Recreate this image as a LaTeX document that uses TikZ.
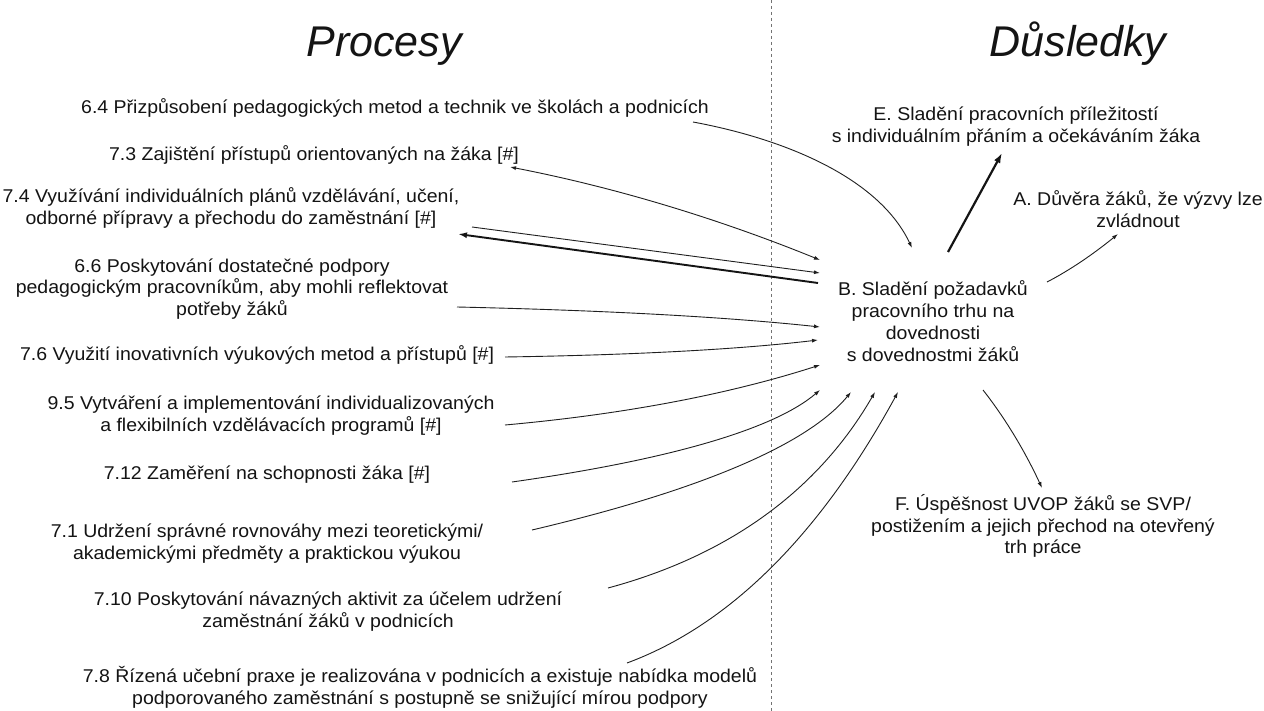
\documentclass[tikz,border=0pt]{standalone}
\usepackage{fontspec}
\setmainfont{Liberation Sans}[FakeStretch=1.054]
\newfontfamily\ttlfont{Liberation Sans}
\usetikzlibrary{arrows.meta,calc}
\newcommand\qcurve[4][]{\draw[#1] (#2) .. controls ($(#2)!0.6667!(#3)$) and ($(#4)!0.6667!(#3)$) .. (#4);}
\begin{document}
\begin{tikzpicture}[x=1pt,y=-1pt,
  txt/.style={font=\fontsize{18.5}{21.8}\selectfont, align=center, inner sep=0pt, text=black!92},
  ttl/.style={font=\ttlfont\fontsize{43}{46}\selectfont\itshape, inner sep=0pt, text=black!92, anchor=base},
  con/.style={line width=0.9pt, draw=black!88, -{Latex[length=6pt,width=4pt]}},
  con2/.style={line width=0.9pt, draw=black!88, {Latex[length=6pt,width=4pt]}-{Latex[length=6pt,width=4pt]}},
  bold/.style={line width=2.2pt, draw=black!92, -{Latex[length=10pt,width=7pt]}},
  divider/.style={draw=black!55, line width=0.8pt, dash pattern=on 3pt off 3pt}]
\path[fill=white,use as bounding box] (0,0) rectangle (1264,711);

\node[ttl] (tP) at (384,57) {Procesy};
\node[ttl] (tD) at (1078,57) {Důsledky};
\coordinate (dtop) at (771,0);
\coordinate (dbot) at (771,711);
\draw[divider] (dtop) -- (dbot);

\node[txt] (p64) at (395,108) {6.4 Přizpůsobení pedagogických metod a technik ve školách a podnicích};
\node[txt] (p73) at (314,155) {7.3 Zajištění přístupů orientovaných na žáka [\#]};
\node[txt] (p74) at (231,208) {7.4 Využívání individuálních plánů vzdělávání, učení,\\odborné přípravy a přechodu do zaměstnání [\#]};
\node[txt] (p66) at (232,289) {6.6 Poskytování dostatečné podpory\\pedagogickým pracovníkům, aby mohli reflektovat\\potřeby žáků};
\node[txt] (p76) at (257,355) {7.6 Využití inovativních výukových metod a přístupů [\#]};
\node[txt] (p95) at (271,416) {9.5 Vytváření a implementování individualizovaných\\a flexibilních vzdělávacích programů [\#]};
\node[txt] (p712) at (267,475) {7.12 Zaměření na schopnosti žáka [\#]};
\node[txt] (p71) at (267,544) {7.1 Udržení správné rovnováhy mezi teoretickými/\\akademickými předměty a praktickou výukou};
\node[txt] (p710) at (328,612) {7.10 Poskytování návazných aktivit za účelem udržení\\zaměstnání žáků v podnicích};
\node[txt] (p78) at (420,687) {7.8 Řízená učební praxe je realizována v podnicích a existuje nabídka modelů\\podporovaného zaměstnání s postupně se snižující mírou podpory};

\node[txt] (cE) at (1016,127) {E. Sladění pracovních příležitostí\\s individuálním přáním a očekáváním žáka};
\node[txt] (cA) at (1138,209) {A. Důvěra žáků, že výzvy lze\\zvládnout};
\node[txt] (cB) at (933,321) {B. Sladění požadavků\\pracovního trhu na\\dovednosti\\s dovednostmi žáků};
\node[txt] (cF) at (1043,526) {F. Úspěšnost UVOP žáků se SVP/\\postižením a jejich přechod na otevřený\\trh práce};

% connector end points
\coordinate (s64) at (693,122);  \coordinate (e64) at (912,248);
\coordinate (s73) at (820,260);  \coordinate (q73) at (665,197); \coordinate (e73) at (510,167);
\coordinate (s74) at (472,227);  \coordinate (e74) at (820,273);
\coordinate (s74k) at (818,283); \coordinate (e74k) at (458,234);
\coordinate (s66) at (457,307);  \coordinate (q66) at (680,312); \coordinate (e66) at (820,327);
\coordinate (s76) at (505,357);  \coordinate (q76) at (700,354); \coordinate (e76) at (818,340);
\coordinate (s95) at (505,425);  \coordinate (q95) at (683,409); \coordinate (e95) at (820,365);
\coordinate (s712) at (512,482); \coordinate (q712) at (752,448); \coordinate (e712) at (820,390);
\coordinate (s71) at (532,530);  \coordinate (q71) at (787,470); \coordinate (e71) at (851,392);
\coordinate (s710) at (608,588); \coordinate (q710) at (790,539); \coordinate (e710) at (875,392);
\coordinate (s78) at (627,663);  \coordinate (q78) at (781,606); \coordinate (e78) at (898,392);
\coordinate (sE) at (948,252);   \coordinate (eE) at (1002,153);
\coordinate (sA) at (1047,282);  \coordinate (qA) at (1080,265); \coordinate (eA) at (1118,234);
\coordinate (sF) at (983,390);   \coordinate (qF) at (1016,432); \coordinate (eF) at (1042,488);

\draw[con] (s64) .. controls (790,140) and (880,180) .. (e64);
\qcurve[con2]{s73}{q73}{e73}
\draw[con] (s74) -- (e74);
\draw[bold,line width=1.9pt,-{Latex[length=9pt,width=6pt]}] (s74k) -- (e74k);
\qcurve[con]{s66}{q66}{e66}
\qcurve[con]{s76}{q76}{e76}
\qcurve[con]{s95}{q95}{e95}
\qcurve[con]{s712}{q712}{e712}
\qcurve[con]{s71}{q71}{e71}
\qcurve[con]{s710}{q710}{e710}
\qcurve[con]{s78}{q78}{e78}
\draw[bold] (sE) -- (eE);
\qcurve[con]{sA}{qA}{eA}
\qcurve[con]{sF}{qF}{eF}
\end{tikzpicture}
\end{document}
